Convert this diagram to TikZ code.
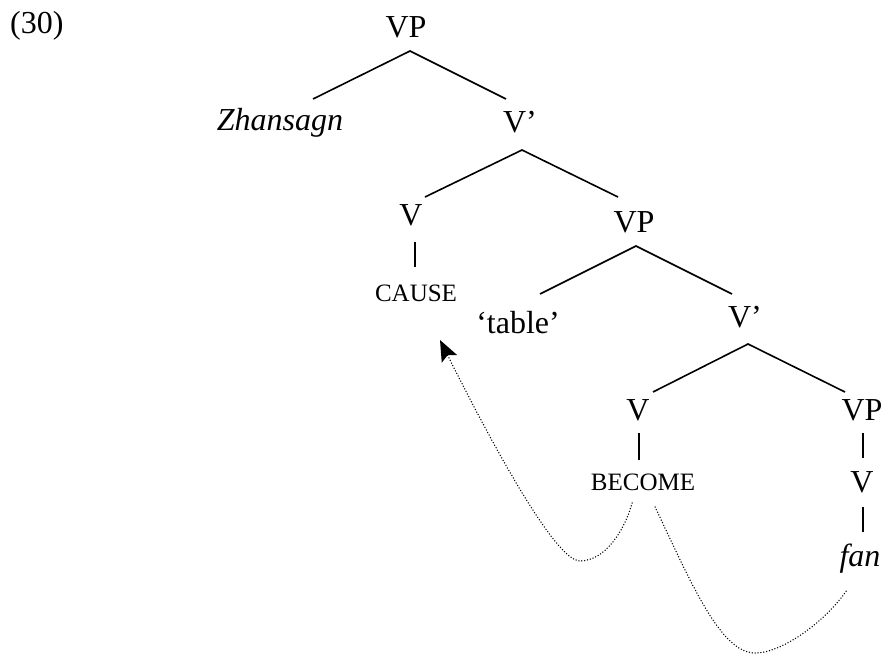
\documentclass[tikz,border=0pt]{standalone}
\usepackage{fontspec}
\setmainfont{Liberation Serif}
\usetikzlibrary{arrows.meta}
\begin{document}
\begin{tikzpicture}[x=1pt,y=-1pt,
  lbl/.style={anchor=base,inner sep=0pt,font=\fontsize{32}{38}\selectfont},
  sc/.style={anchor=base,inner sep=0pt,font=\fontsize{25}{30}\selectfont},
  branch/.style={line width=1.6pt},
  trace/.style={line width=1.5pt,line cap=round,dash pattern=on 0pt off 2.9pt}]
\useasboundingbox (0,0) rectangle (883,656);

% example number
\node[lbl,anchor=base west] (ex) at (10,33) {(30)};

% tree labels
\node[lbl] (vp0) at (406,37) {VP};
\node[lbl] (zh) at (280,130) {\itshape Zhansagn};
\node[lbl] (vbar1) at (520,132) {V’};
\node[lbl] (v1) at (411,225) {V};
\node[lbl] (vp1) at (634,232) {VP};
\node[sc] (cause) at (416,301) {CAUSE};
\node[lbl] (table) at (518,333) {‘table’};
\node[lbl] (vbar2) at (745,327) {V’};
\node[lbl] (v2) at (638,420) {V};
\node[lbl] (vp2) at (862,420) {VP};
\node[sc] (become) at (643,490) {BECOME};
\node[lbl] (v3) at (862,492) {V};
\node[lbl] (fan) at (860,566) {\itshape fan};

% branches
\draw[branch] ([shift={(33,-31)}]zh.base) -- ([shift={(4,14)}]vp0.base)
              -- ([shift={(-14,-33)}]vbar1.base);
\draw[branch] ([shift={(14,-28)}]v1.base) -- ([shift={(2,18)}]vbar1.base)
              -- ([shift={(-16,-35)}]vp1.base);
\draw[branch] ([shift={(4,17)}]v1.base) -- ([shift={(-1,-34)}]cause.base);
\draw[branch] ([shift={(22,-39)}]table.base) -- ([shift={(2,14)}]vp1.base)
              -- ([shift={(-13,-33)}]vbar2.base);
\draw[branch] ([shift={(15,-28)}]v2.base) -- ([shift={(3,17)}]vbar2.base)
              -- ([shift={(-17,-28)}]vp2.base);
\draw[branch] ([shift={(1,13)}]v2.base) -- ([shift={(-4,-30)}]become.base);
\draw[branch] ([shift={(1,13)}]vp2.base) -- ([shift={(1,-34)}]v3.base);
\draw[branch] ([shift={(1,15)}]v3.base) -- ([shift={(3,-34)}]fan.base);

% movement traces
\draw[trace,-{Stealth[length=21pt,width=17pt,inset=4pt,line cap=butt]}]
  ([shift={(-11,13)}]become.base) .. controls (625,530) and (605,561) .. (580,561)
  .. controls (555,561) and (490,440) .. ([shift={(24,39)}]cause.base);
\draw[trace]
  ([shift={(12,17)}]become.base) .. controls (690,580) and (720,653) .. (755,653)
  .. controls (782,653) and (825,622) .. ([shift={(-13,24)}]fan.base);
\end{tikzpicture}
\end{document}
